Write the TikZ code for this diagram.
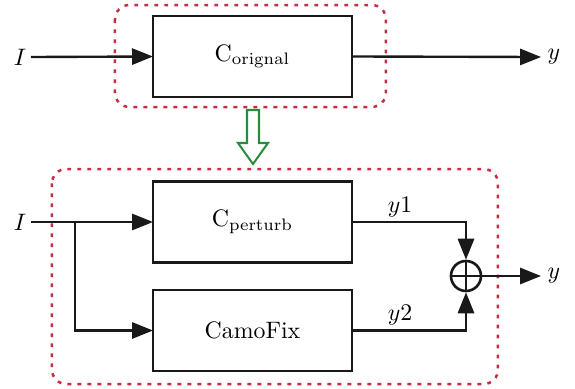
\documentclass[tikz,border=0pt]{standalone}
\usetikzlibrary{arrows.meta}
\definecolor{dotred}{RGB}{200,45,65}
\definecolor{arrgreen}{RGB}{40,140,60}
\begin{document}
\begin{tikzpicture}[x=0.42pt,y=-0.42pt,
  blk/.style={draw=black!90,line width=1.15pt,rectangle,inner sep=0pt,outer sep=0pt,
    minimum width=83.6pt,minimum height=34pt,font=\normalsize},
  wire/.style={draw=black!90,line width=1pt},
  arr/.style={wire,-{Triangle[length=8.8pt,width=6.8pt]}},
  grp/.style={draw=dotred,line width=1.05pt,dash pattern=on 1.6pt off 2.6pt,rounded corners=6pt},
  lbl/.style={inner sep=0pt}]
\useasboundingbox (0,0) rectangle (575,389);
% groups
\draw[grp] (115,5) rectangle (386,107);
\draw[grp] (52,169) rectangle (498,384);
% top
\node[blk] (orig) at (252.5,56.5) {$\mathrm{C}_{\mathrm{orignal}}$};
\node[lbl] (Itop) at (20,57) {$I$};
\node[lbl] (ytop) at (554,57) {$y$};
\coordinate (Itopend) at (31,57);
\coordinate (ytopend) at (541,57);
\draw[arr] (Itopend) -- (orig.west);
\draw[arr] (orig.east) -- (ytopend);
% green arrow
\draw[arrgreen,line width=0.85pt,line join=miter]
  (247,110) -- (259,110) -- (259,143) -- (268,143) -- (253,164) -- (238,143) -- (247,143) -- cycle;
% bottom
\node[blk] (pert) at (252.5,222) {$\mathrm{C}_{\mathrm{perturb}}$};
\node[blk] (camo) at (252.5,330.5) {CamoFix};
\node[draw=black!90,line width=1.1pt,circle,minimum size=12.6pt,inner sep=0pt] (sum) at (466,276) {};
\draw[wire] (sum.north) -- (sum.south);
\draw[wire] (sum.west) -- (sum.east);
\node[lbl] (Ibot) at (20,222) {$I$};
\coordinate (Ibotend) at (31,222);
\coordinate (split) at (75,222);
\draw[wire] (Ibotend) -- (split);
\draw[arr] (split) -- (pert.west);
\draw[arr] (split) |- (camo.west);
\draw[arr] (pert.east) -| (sum.north);
\draw[arr] (camo.east) -| (sum.south);
\node[lbl] (y1) at (400,207) {$y1$};
\node[lbl] (y2) at (400,315) {$y2$};
\node[lbl] (ybot) at (554,276) {$y$};
\coordinate (ybotend) at (541,276);
\draw[arr] (sum.east) -- (ybotend);
\end{tikzpicture}
\end{document}
